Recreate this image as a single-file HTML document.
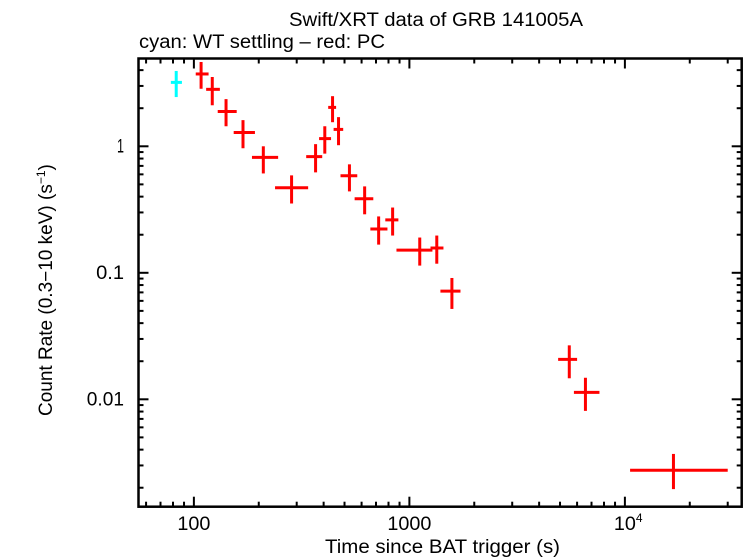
<!DOCTYPE html>
<html><head><meta charset="utf-8"><style>
html,body{margin:0;padding:0;background:#fff;}
svg{display:block;font-family:"Liberation Sans",Arial,sans-serif;}
</style></head><body>
<svg id="chart" width="746" height="558" viewBox="0 0 746 558" xmlns="http://www.w3.org/2000/svg">
<text x="289" y="26" font-size="19" textLength="294" lengthAdjust="spacingAndGlyphs">Swift/XRT data of GRB 141005A</text>
<text x="139" y="48" font-size="19" textLength="246" lengthAdjust="spacingAndGlyphs">cyan: WT settling – red: PC</text>
<text x="325" y="553" font-size="19" textLength="235" lengthAdjust="spacingAndGlyphs">Time since BAT trigger (s)</text>
<text transform="translate(52,416) rotate(-90)" font-size="19">Count Rate (0.3−10 keV) (s<tspan font-size="12" dy="-7">−1</tspan><tspan dy="7">)</tspan></text>
<g id="axes"></g>
<g id="marks"></g>
<rect x="138.5" y="58.5" width="603.2" height="448.2" fill="none" stroke="#000" stroke-width="2.5"/>
</svg>
<script>
const wtTime=[82.8], wtTimeLo=[78.2], wtTimeHi=[88], wtRate=[3.2], wtRateLo=[2.45], wtRateHi=[3.94];
const pcTime=[108,121.7,141,169,210,284,367,405,440,469,527,620,720,836,1117,1340,1575,5520,6560,16800];
const pcTimeLo=[102,114,129,153,186,238,332,381,420,445,479,557,659,773,871,1253,1393,4900,5800,10570];
const pcTimeHi=[117,132,158,192,246,339,394,433,457,493,573,680,791,889,1279,1439,1726,6000,7620,30000];
const pcRate=[3.73,2.82,1.885,1.285,0.818,0.47,0.828,1.15,2.03,1.36,0.585,0.385,0.222,0.262,0.151,0.157,0.0716,0.0207,0.01135,0.00275];
const pcRateLo=[2.85,2.11,1.44,0.965,0.61,0.353,0.622,0.875,1.55,1.02,0.44,0.29,0.167,0.197,0.114,0.118,0.0518,0.01466,0.0081,0.00195];
const pcRateHi=[4.64,3.53,2.36,1.61,1.0,0.589,1.04,1.44,2.49,1.70,0.72,0.482,0.279,0.328,0.19,0.197,0.091,0.0267,0.0148,0.0037];
const xTickVals=[100,1000];
const xTickLabels=["100","1000"];
const yTickVals=[1,0.1,0.01];
const yTickLabels=["1","0.1","0.01"];

const L=138.5,R=741.7,T=58.5,B=506.7;
const xMin=1.743,xMax=4.542,yMin=-2.849,yMax=0.694;
function xs(v){return L+(Math.log10(v)-xMin)/(xMax-xMin)*(R-L);}
function ys(v){return B-(Math.log10(v)-yMin)/(yMax-yMin)*(B-T);}
const NS="http://www.w3.org/2000/svg";
function mk(tag,attrs,parent){const e=document.createElementNS(NS,tag);for(const k in attrs)e.setAttribute(k,attrs[k]);parent.appendChild(e);return e;}
const axes=document.getElementById('axes'), marks=document.getElementById('marks');

for(let d=1;d<=4;d++){for(let m=1;m<=9;m++){const v=m*Math.pow(10,d);const lv=Math.log10(v);if(lv<xMin||lv>xMax)continue;const x=xs(v);const len=m===1?10:5;
 const t1=mk('line',{x1:x,x2:x,y1:B,y2:B-len,stroke:'#000','stroke-width':2},axes);
 
 
 const t2=mk('line',{x1:x,x2:x,y1:T,y2:T+len,stroke:'#000','stroke-width':2},axes);
 
 
}}
xTickVals.forEach((v,i)=>{const w=xTickLabels[i].length*11;const t=mk('text',{x:xs(v)-w/2,y:530,'font-size':19,textLength:w,lengthAdjust:'spacingAndGlyphs'},axes);t.textContent=xTickLabels[i];
 
 });
const t4=mk('text',{x:xs(10000)-11,y:530,'font-size':19},axes);


t4.innerHTML='<tspan textLength="22" lengthAdjust="spacingAndGlyphs">10</tspan><tspan font-size="12" dy="-8">4</tspan>';

for(let d=-3;d<=0;d++){for(let m=1;m<=9;m++){const v=m*Math.pow(10,d);const lv=Math.log10(v);if(lv<yMin||lv>yMax)continue;const y=ys(v);const len=m===1?10:5;
 const t1=mk('line',{x1:L,x2:L+len,y1:y,y2:y,stroke:'#000','stroke-width':2},axes);
 
 
 const t2=mk('line',{x1:R,x2:R-len,y1:y,y2:y,stroke:'#000','stroke-width':2},axes);
 
 
}}
yTickVals.forEach((v,i)=>{const s=yTickLabels[i];const w=s.length===1?7:(s.length*9.3);const t=mk('text',{x:124-w,y:ys(v)+6,'font-size':19,textLength:w,lengthAdjust:'spacingAndGlyphs'},axes);t.textContent=s;
 
 });

function drawSeries(tm,tl,th,r,rl,rh,color,name){
 for(let i=0;i<tm.length;i++){
  const g=mk('g',{},marks);
  
  
  mk('line',{x1:xs(tl[i]),x2:xs(th[i]),y1:ys(r[i]),y2:ys(r[i]),stroke:color,'stroke-width':3},g);
  mk('line',{x1:xs(tm[i]),x2:xs(tm[i]),y1:ys(rl[i]),y2:ys(rh[i]),stroke:color,'stroke-width':3},g);
 }
}
drawSeries(wtTime,wtTimeLo,wtTimeHi,wtRate,wtRateLo,wtRateHi,'#00ffff','wt-data-point');
drawSeries(pcTime,pcTimeLo,pcTimeHi,pcRate,pcRateLo,pcRateHi,'#ff0000','pc-data-point');
</script>
</body></html>
